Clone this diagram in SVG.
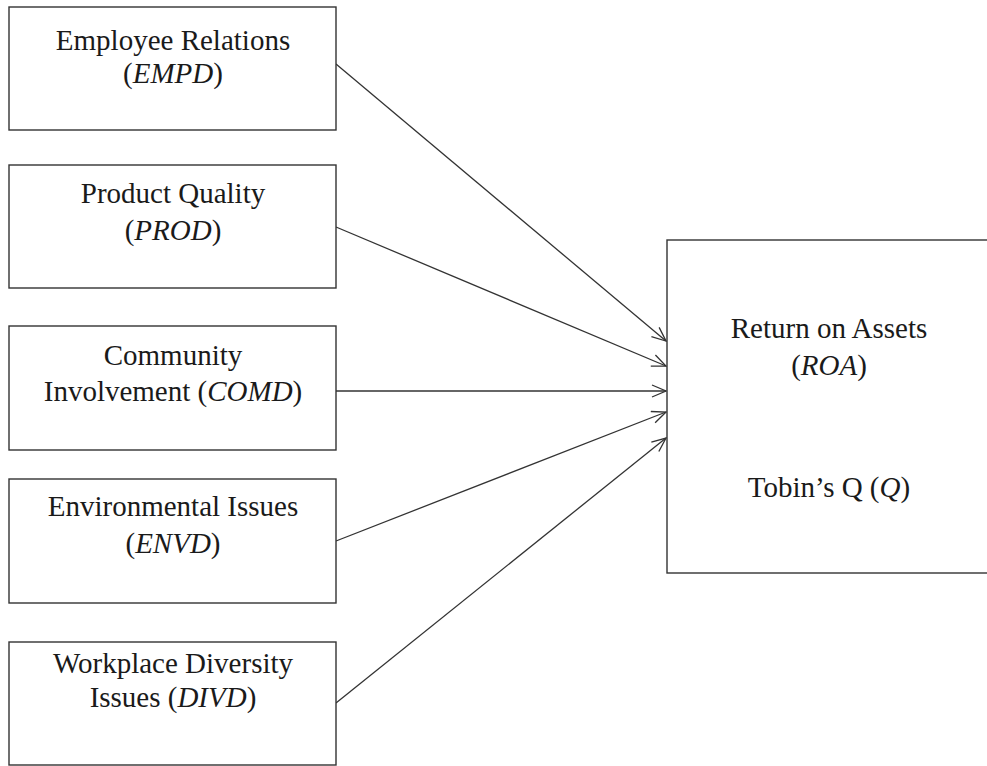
<svg xmlns="http://www.w3.org/2000/svg" width="987" height="766" viewBox="0 0 987 766">
<style>
.box{fill:#fff;stroke:#333;stroke-width:1.4}
.t{font-family:"Liberation Serif","Times New Roman",serif;font-size:29px;fill:#1a1a1a;text-anchor:middle}
.edge{stroke:#333;stroke-width:1.3;fill:none;marker-end:url(#arr)}
</style>
<defs>
<marker id="arr" markerUnits="userSpaceOnUse" markerWidth="18" markerHeight="16" refX="15" refY="7" orient="auto">
<path d="M1,1 L15,7 L1,13" fill="none" stroke="#333" stroke-width="1.3"/>
</marker>
</defs>
<rect width="987" height="766" fill="#fff"/>
<g id="connectors">
<line class="edge" x1="336" y1="64" x2="666" y2="341"/>
<line class="edge" x1="336" y1="227" x2="666" y2="366"/>
<line class="edge" x1="336" y1="391" x2="666" y2="391"/>
<line class="edge" x1="336" y1="541" x2="666" y2="412"/>
<line class="edge" x1="336" y1="703" x2="666" y2="438"/>
</g>
<g id="empd">
<rect class="box" x="9" y="7" width="327" height="123"/>
<text class="t" x="173" y="50">Employee Relations</text>
<text class="t" x="173" y="83">(<tspan font-style="italic">EMPD</tspan>)</text>
</g>
<g id="prod">
<rect class="box" x="9" y="165" width="327" height="123"/>
<text class="t" x="173" y="203">Product Quality</text>
<text class="t" x="173" y="240">(<tspan font-style="italic">PROD</tspan>)</text>
</g>
<g id="comd">
<rect class="box" x="9" y="326" width="327" height="124"/>
<text class="t" x="173" y="365">Community</text>
<text class="t" x="173" y="401">Involvement (<tspan font-style="italic">COMD</tspan>)</text>
</g>
<g id="envd">
<rect class="box" x="9" y="479" width="327" height="124"/>
<text class="t" x="173" y="516">Environmental Issues</text>
<text class="t" x="173" y="553">(<tspan font-style="italic">ENVD</tspan>)</text>
</g>
<g id="divd">
<rect class="box" x="9" y="642" width="327" height="123"/>
<text class="t" x="173" y="673">Workplace Diversity</text>
<text class="t" x="173" y="707">Issues (<tspan font-style="italic">DIVD</tspan>)</text>
</g>
<g id="outcome">
<rect class="box" x="667" y="240" width="330" height="333"/>
<text class="t" x="829" y="338">Return on Assets</text>
<text class="t" x="829" y="375">(<tspan font-style="italic">ROA</tspan>)</text>
<text class="t" x="829" y="497">Tobin’s Q (<tspan font-style="italic">Q</tspan>)</text>
</g>
</svg>
